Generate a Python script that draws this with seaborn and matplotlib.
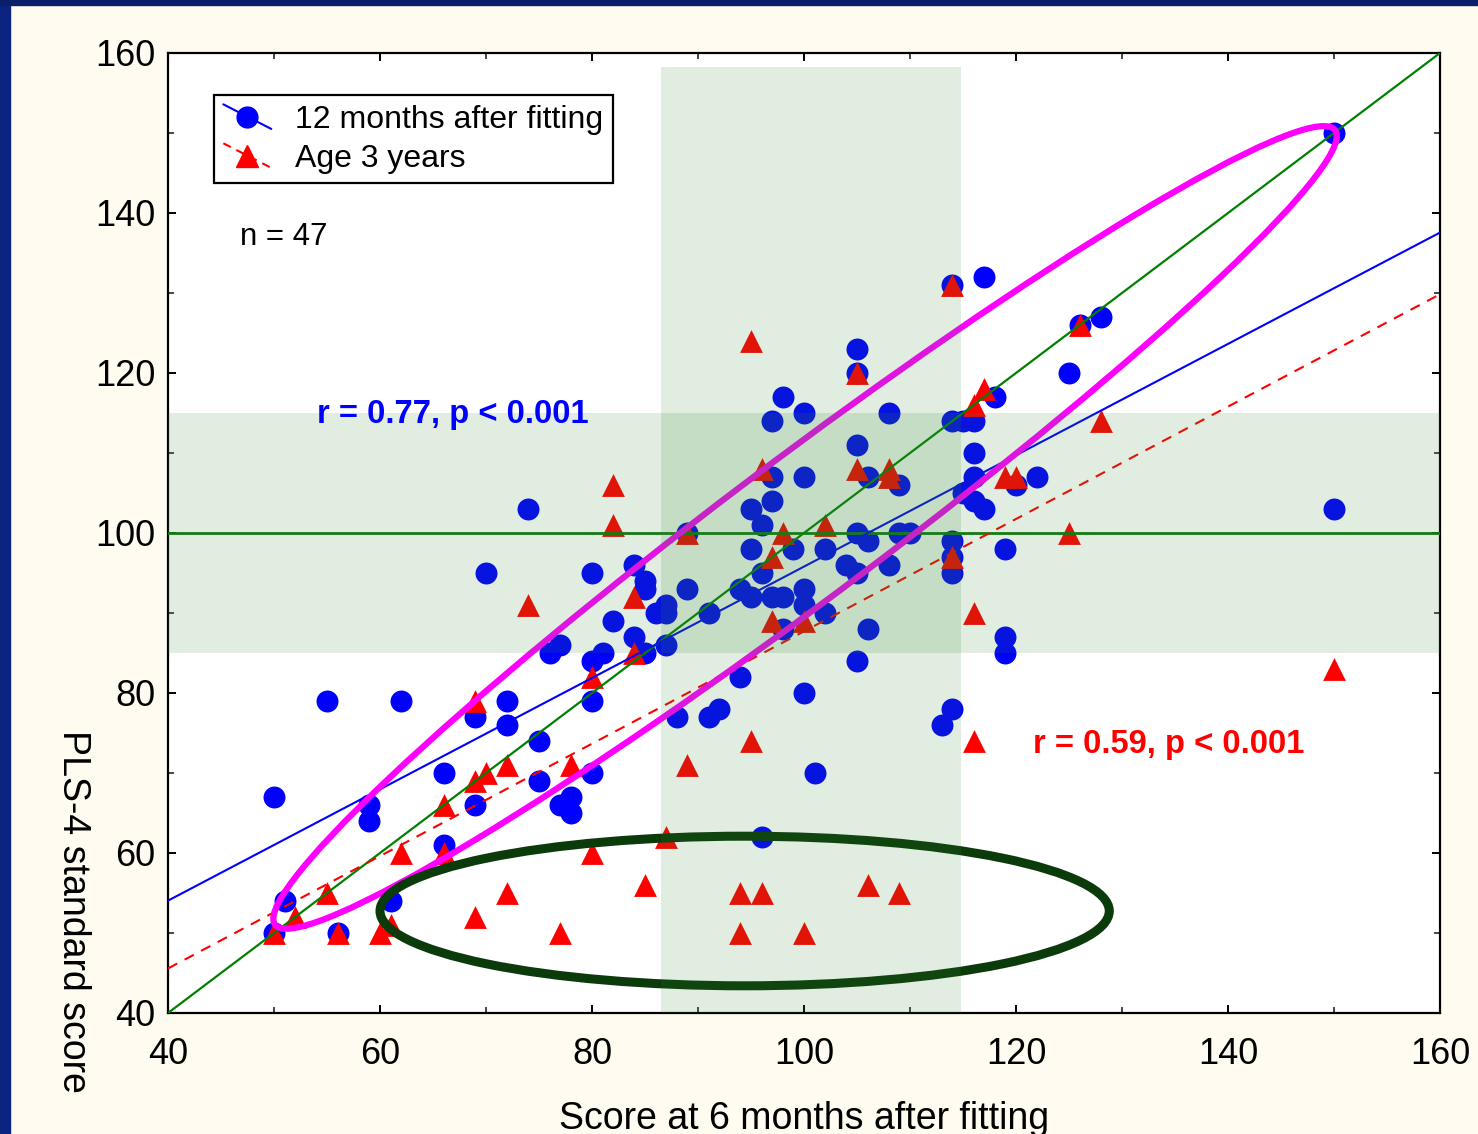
import numpy as np
import pandas as pd
import seaborn as sns
import matplotlib.pyplot as plt
from matplotlib.patches import Ellipse, Rectangle
from matplotlib.lines import Line2D
from matplotlib.legend_handler import HandlerLine2D

sns.set_style('ticks')
plt.rcParams['font.family'] = ['Liberation Sans', 'DejaVu Sans']
plt.rcParams['text.color'] = 'black'
plt.rcParams['axes.labelcolor'] = 'black'

# scores at 12 months after fitting (blue circles)
blue_x = [50, 55, 62, 59, 59, 51, 50, 56, 61, 66, 66, 69, 69, 72, 72, 70, 74, 75, 75, 76,
          77, 77, 78, 78, 80, 80, 81, 80, 80, 82, 84, 84, 85, 85, 85, 86, 87, 87, 87, 89,
          89, 88, 91, 91, 92, 94, 94, 95, 95, 95, 96, 96, 97, 97, 97, 97, 98, 98, 98, 99,
          100, 100, 100, 100, 100, 101, 102, 102, 96, 105, 105, 105, 105, 104, 105, 106, 106, 105, 106, 108,
          108, 109, 109, 110, 113, 114, 114, 114, 115, 116, 114, 114, 114, 116, 116, 115, 116, 117, 117, 118,
          119, 119, 119, 120, 122, 125, 126, 128, 150, 150]
blue_y = [67, 79, 79, 66, 64, 54, 50, 50, 54, 61, 70, 77, 66, 79, 76, 95, 103, 74, 69, 85,
          86, 66, 67, 65, 95, 84, 85, 79, 70, 89, 96, 87, 94, 93, 85, 90, 91, 90, 86, 93,
          100, 77, 90, 77, 78, 82, 93, 103, 98, 92, 101, 95, 114, 107, 104, 92, 92, 117, 88, 98,
          115, 107, 93, 91, 80, 70, 98, 90, 62, 123, 120, 111, 100, 96, 95, 99, 88, 84, 107, 115,
          96, 106, 100, 100, 76, 78, 131, 114, 114, 114, 99, 97, 95, 110, 107, 105, 104, 132, 103, 117,
          98, 87, 85, 106, 107, 120, 126, 127, 150, 103]

# scores at age 3 years (red triangles)
red_x = [50, 52, 55, 56, 60, 61, 62, 66, 66, 69, 69, 70, 72, 69, 72, 74, 77, 78, 80, 80,
         82, 82, 84, 84, 85, 87, 89, 89, 94, 94, 95, 95, 96, 96, 97, 97, 98, 100, 100, 102,
         105, 105, 106, 108, 108, 109, 114, 114, 116, 116, 116, 117, 119, 120, 125, 126, 128, 150]
red_y = [50, 52, 55, 50, 50, 51, 60, 66, 60, 79, 69, 70, 71, 52, 55, 91, 50, 71, 82, 60,
         106, 101, 92, 85, 56, 62, 100, 71, 55, 50, 124, 74, 55, 108, 97, 89, 100, 50, 89, 101,
         120, 108, 56, 108, 107, 55, 131, 97, 90, 74, 116, 118, 107, 107, 100, 126, 114, 83]

x_ticks = [40, 60, 80, 100, 120, 140, 160]
y_ticks = [40, 60, 80, 100, 120, 140, 160]
normal_range = (85, 115)
band_x = (86.5, 114.8)


class SlantHandler(HandlerLine2D):
    # legend line drawn slanting down, as in the original
    def create_artists(self, legend, orig_handle, xdescent, ydescent, width, height,
                       fontsize, trans):
        arts = super().create_artists(legend, orig_handle, xdescent, ydescent, width,
                                      height, fontsize, trans)
        line = arts[0]
        n = len(line.get_xdata())
        mid = (height - ydescent) / 2
        line.set_ydata(np.linspace(mid + 0.55 * height, mid - 0.55 * height, n))
        return arts


fig = plt.figure(figsize=(14.78, 11.34), dpi=100)
fig.patch.set_facecolor('#FFFBF0')
# dark blue slide border
fig.patches.append(Rectangle((0, 0), 10 / 1478, 1, transform=fig.transFigure,
                             color='#0A2480', zorder=0))
fig.patches.append(Rectangle((0, 1 - 5 / 1134), 1, 5 / 1134, transform=fig.transFigure,
                             color='#0A1E6A', zorder=0))

ax = fig.add_axes([168 / 1478, 121 / 1134, 1272 / 1478, 960 / 1134])
ax.set_facecolor('white')
ax.set_xlim(40, 160)
ax.set_ylim(40, 160)

# reference lines
ax.plot([40, 160], [40, 160], color='#008000', lw=1.6, zorder=4)
ax.axhline(100, color='#0E7A0E', lw=2.0, zorder=4)

# points
sns.scatterplot(x=blue_x, y=blue_y, ax=ax, color='#0000FF', marker='o', s=250,
                linewidth=0, zorder=2)
sns.scatterplot(x=red_x, y=red_y, ax=ax, color='#FF0000', marker='^', s=270,
                linewidth=0, zorder=3)

# regression lines
sns.regplot(x=blue_x, y=blue_y, ax=ax, scatter=False, ci=None, truncate=False,
            color='#0000FF', line_kws=dict(lw=1.5, zorder=5))
sns.regplot(x=red_x, y=red_y, ax=ax, scatter=False, ci=None, truncate=False,
            color='#FF0000', line_kws=dict(lw=1.5, ls=(0, (5, 4)), zorder=5))

# ellipses
ax.add_patch(Ellipse((100.1, 100.7), 141, 15.8, angle=45, fill=False,
                     ec='#FF00FF', lw=4.5, zorder=6))
ax.add_patch(Ellipse((94.4, 52.75), 68.8, 18.7, fill=False,
                     ec='#0B3A0B', lw=6.5, zorder=6))

# normal range shading
ax.axhspan(normal_range[0], normal_range[1], color='#308730', alpha=0.15, lw=0, zorder=7)
ax.fill_between(band_x, 40, 158.2, color='#308730', alpha=0.15, lw=0, zorder=7)

ax.set_xticks(x_ticks)
ax.set_yticks(y_ticks)
ax.set_xticks(np.arange(50, 160, 20), minor=True)
ax.set_yticks(np.arange(50, 160, 20), minor=True)
ax.tick_params(which='major', direction='in', length=6, width=1.4, top=True, right=True,
               labelsize=26, colors='black', pad=17)
ax.tick_params(which='minor', direction='in', length=4, width=1.2, top=True, right=True)
ax.tick_params(axis='y', pad=9)
for s in ax.spines.values():
    s.set_linewidth(1.6)
    s.set_color('black')

ax.set_xlabel('Score at 6 months after fitting', fontsize=27, labelpad=21)
ax.set_ylabel('PLS-4 standard score', fontsize=27, rotation=270, va='center', ha='center')
ax.yaxis.set_label_coords(-0.075, 0.106)

ax.text(46.8, 137.0, 'n = 47', fontsize=22.5, va='center', zorder=9)
ax.text(54.1, 114.8, 'r = 0.77, p < 0.001', fontsize=23.6, fontweight='bold',
        color='#0000FF', va='center', zorder=9)
ax.text(121.6, 73.5, 'r = 0.59, p < 0.001', fontsize=23.6, fontweight='bold',
        color='#FF0000', va='center', zorder=9)

handles = [Line2D([], [], color='#0000FF', lw=1.5, marker='o', markersize=15),
           Line2D([], [], color='#FF0000', lw=1.5, ls=(0, (4, 3)), marker='^', markersize=16)]
leg = ax.legend(handles, ['12 months after fitting', 'Age 3 years'], loc='upper left',
                bbox_to_anchor=(0.036, 0.956), fontsize=23, frameon=True, fancybox=False,
                edgecolor='black', framealpha=1, borderpad=0.3, handlelength=1.5,
                labelspacing=0.28, handletextpad=0.75, borderaxespad=0,
                handler_map={Line2D: SlantHandler()})
leg.get_frame().set_linewidth(1.6)
leg.set_zorder(10)

fig.savefig('out.png', dpi=100, facecolor=fig.get_facecolor())
